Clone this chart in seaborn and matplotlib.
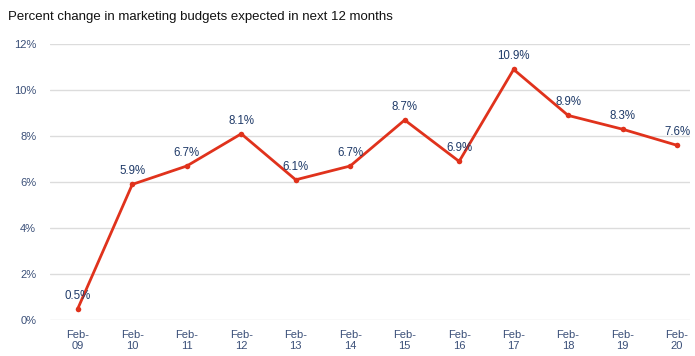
import matplotlib
matplotlib.use("Agg")
import matplotlib.pyplot as plt
import seaborn as sns
import pandas as pd

periods = ["Feb-\n09", "Feb-\n10", "Feb-\n11", "Feb-\n12", "Feb-\n13", "Feb-\n14",
           "Feb-\n15", "Feb-\n16", "Feb-\n17", "Feb-\n18", "Feb-\n19", "Feb-\n20"]
budget_change = [0.5, 5.9, 6.7, 8.1, 6.1, 6.7, 8.7, 6.9, 10.9, 8.9, 8.3, 7.6]
y_ticks = [0, 2, 4, 6, 8, 10, 12]

df = pd.DataFrame({"idx": range(len(periods)), "value": budget_change})

sns.set_theme(style="white")
plt.rcParams["font.family"] = ["Liberation Sans", "DejaVu Sans"]

fig = plt.figure(figsize=(6.95, 3.56), dpi=100)
ax = fig.add_axes([0.072, 0.101, 0.921, 0.775])

line_color = "#e0321c"
label_color = "#1f3a68"
tick_color = "#3a4f78"

sns.lineplot(data=df, x="idx", y="value", ax=ax, color=line_color,
             linewidth=2.0, marker="o", markersize=4, markeredgewidth=0,
             zorder=3)

for i, v in enumerate(budget_change):
    ax.annotate(f"{v}%", (i, v), xytext=(0, 5), textcoords="offset points",
                ha="center", va="bottom", fontsize=8.3, color=label_color,
                zorder=4)

ax.set_xlim(-0.51, 11.24)
ax.set_ylim(0, 12)
ax.set_yticks(y_ticks)
ax.set_yticklabels([f"{t}%" for t in y_ticks])
ax.set_xticks(range(len(periods)))
ax.set_xticklabels(periods)
ax.tick_params(axis="both", length=0, labelsize=8, labelcolor=tick_color)
ax.tick_params(axis="x", pad=7)
ax.tick_params(axis="y", pad=10)
ax.yaxis.grid(True, color="#dcdcdc", linewidth=1.0)
ax.xaxis.grid(False)
for s in ax.spines.values():
    s.set_visible(False)
ax.set_xlabel("")
ax.set_ylabel("")

fig.text(0.012, 0.952, "Percent change in marketing budgets expected in next 12 months",
         fontsize=9.5, color="#111111", ha="left", va="center")

fig.savefig("out.png", dpi=100)
